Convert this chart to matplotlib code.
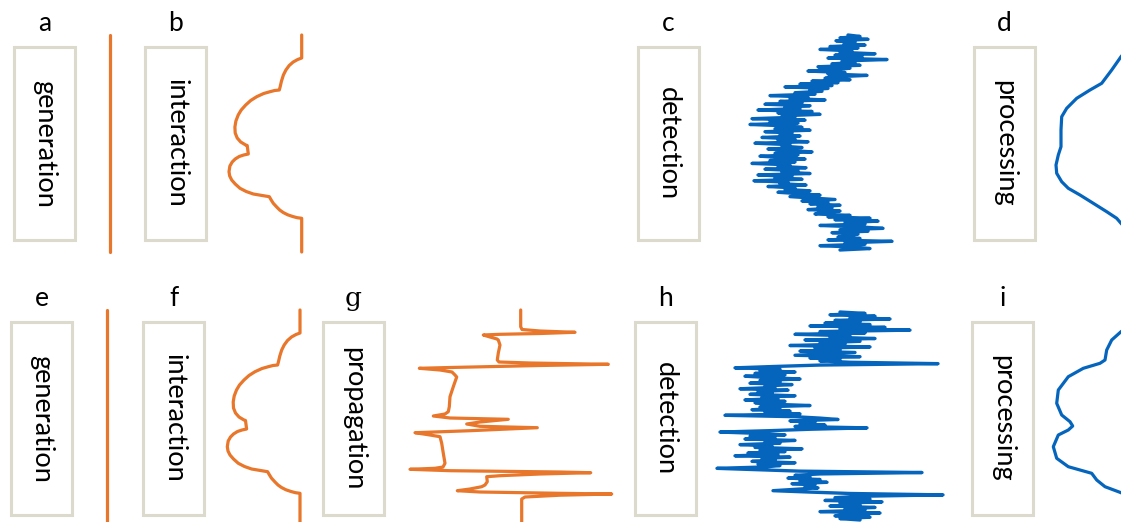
import numpy as np
import matplotlib
matplotlib.use("Agg")
import matplotlib.pyplot as plt
from matplotlib.patches import Rectangle

plt.rcParams["font.family"] = ["Lato", "DejaVu Sans"]

ORANGE = "#E8762B"
BLUE = "#0565BD"
BOX_EDGE = "#DCDACD"

# stage names and panel letters
top_labels = ["a", "b", "c", "d"]
top_stages = ["generation", "interaction", "detection", "processing"]
bottom_labels = ["e", "f", "g", "h", "i"]
bottom_stages = ["generation", "interaction", "propagation", "detection", "processing"]

# interaction profile: depth (px from top) and deflection from the baseline
interaction_depth = [0, 23, 24.5, 27, 30.5, 35, 40, 46, 52, 55, 55.5, 56.7, 58.5, 61.7, 65.5,
                     70, 75, 80, 86, 92, 98, 103, 107, 110, 110.5, 119, 120, 121.5, 124, 127,
                     131, 136.7, 141, 145, 149, 153.3, 156.5, 159, 161.7, 165, 168.3, 172,
                     175, 177.5, 179.8, 181.5, 182.7, 183.3, 217]
interaction_amp = [0, 0, -4, -8.5, -12.5, -15.8, -18.3, -20.2, -21.6, -22.4, -27, -31.7, -38,
                   -45, -51, -56, -60.5, -63.5, -65.8, -66.8, -66.5, -64.5, -61, -56, -54.5,
                   -53.4, -58, -62.5, -66.5, -69.5, -71.8, -72.7, -72, -70, -66.5, -61.7,
                   -55.5, -48.4, -32.4, -30.5, -28.4, -25, -22, -18.5, -14, -9, -4.5, 0, 0]

# propagated field (orange, panel g)
propagation_x = [120.7, 120.7, 122, 140, 175, 140, 100, 83.3, 90, 97, 98.3, 100, 98.3, 97.3,
                 99, 130, 208.3, 140, 50, 19.3, 40, 52, 55, 56.7, 53.3, 50, 49.3, 48.3, 45,
                 33.3, 50, 108.3, 80, 66.7, 80, 137.3, 70, 15, 30, 40, 41.7, 43.3, 45, 43,
                 35, 10, 50, 160, 190.7, 140, 100, 86.7, 87.3, 85, 81.7, 70, 57.3, 80, 160,
                 211.7, 160, 125, 121.7, 121.7]
propagation_depth = [0, 16.7, 19.5, 21, 22.3, 23.5, 24.3, 25, 27, 29, 30, 35, 43, 50, 52, 53,
                     54.3, 55.5, 57.5, 58.3, 60, 62, 65, 67, 76.7, 86.7, 96.7, 101.7, 104,
                     106, 108, 109.3, 112, 114, 116.3, 117.7, 120.7, 122.7, 125, 126.7,
                     133.3, 143.3, 153.3, 157, 158.3, 159.3, 160.7, 162, 162.7, 164, 165.7,
                     166.7, 171.7, 175, 176.7, 179, 180.7, 182, 183.3, 184, 185.2, 187,
                     189, 212]

# detected signal, top row (blue, noisy), evenly sampled in depth
detection_top = [108, 120, 100, 128, 96, 115, 104, 125, 90, 118,
                 80, 112, 100, 135, 95, 122, 88, 147, 102, 115,
                 92, 120, 78, 110, 96, 68, 105, 88, 127, 95,
                 85, 110, 72, 98, 60, 92, 45, 88, 70, 82,
                 55, 75, 30, 68, 50, 85, 40, 62, 25, 70,
                 45, 60, 18, 72, 38, 80, 42, 55, 12, 65,
                 30, 58, 10, 48, 62, 35, 70, 25, 52, 40,
                 60, 22, 55, 38, 68, 15, 50, 42, 62, 28,
                 48, 72, 35, 58, 20, 45, 65, 30, 55, 12,
                 50, 38, 66, 25, 58, 42, 70, 18, 52, 35,
                 62, 14, 48, 40, 66, 28, 55, 45, 70, 38,
                 60, 80, 50, 72, 95, 62, 88, 70, 100, 78,
                 92, 68, 100, 82, 75, 110, 88, 130, 95, 138,
                 105, 125, 80, 120, 143, 100, 128, 92, 118, 110,
                 98, 120, 88, 152, 105, 125, 80, 115, 130, 100]

# detected signal, bottom row (blue, noisy with reflections)
detection_bottom = [140, 165, 130, 175, 150, 190, 135, 160, 125, 170,
                    110, 185, 140, 210, 120, 165, 95, 150, 130, 175,
                    105, 160, 120, 145, 90, 170, 115, 140, 100, 155,
                    125, 95, 160, 110, 140, 120, 150, 238, 120, 75,
                    35, 80, 60, 95, 55, 85, 45, 70, 100, 60,
                    80, 50, 92, 65, 75, 40, 88, 58, 72, 50,
                    95, 62, 78, 45, 85, 55, 70, 110, 60, 80,
                    52, 90, 65, 100, 25, 95, 120, 138, 90, 115,
                    100, 125, 95, 167, 110, 70, 20, 60, 85, 50,
                    75, 45, 95, 65, 80, 40, 72, 55, 102, 60,
                    85, 48, 78, 35, 90, 62, 75, 52, 95, 58,
                    80, 65, 17, 60, 100, 222, 120, 95, 110, 88,
                    120, 100, 127, 92, 115, 105, 118, 95, 73, 110,
                    150, 243, 160, 135, 170, 125, 182, 140, 160, 130,
                    175, 145, 165, 120, 180, 150, 135, 170, 140, 160]

# processed (smoothed) profiles
processing_top_x = [85, 71, 61.7, 51.7, 40, 26.7, 16.7, 11.7, 11, 11, 8.3, 6, 6.7, 11.7, 18.3,
                    30, 43.3, 56.7, 66.7, 71, 85]
processing_top_depth = [5, 21.7, 35, 48.3, 55, 63.3, 73.3, 81.7, 95, 111.7, 120, 130, 138.3,
                        146.7, 153.3, 160, 168.3, 176.7, 183.3, 188.3, 203]
processing_bottom_x = [85, 71, 61.7, 56.7, 55, 50, 33.3, 18.3, 8.3, 6.7, 11.7, 20, 22.7, 18.3,
                       8.3, 3.3, 6.7, 18.3, 41.7, 46.7, 55, 71, 85]
processing_bottom_depth = [12, 21.7, 30, 40, 50, 53.3, 58.3, 66.7, 80, 93.3, 105, 111.7, 116,
                           120, 125, 136.7, 148.3, 156.7, 163.3, 170, 176.7, 182.7, 190]

fig = plt.figure(figsize=(11.21, 5.22), dpi=100)
ax = fig.add_axes([0, 0, 1, 1])
ax.set_xlim(0, 1121)
ax.set_ylim(522, 0)
ax.axis("off")


def stage_box(x0, y0, label, stage, w=61, h=193):
    ax.add_patch(Rectangle((x0, y0), w, h, facecolor="white", edgecolor=BOX_EDGE, lw=2.2))
    ax.text(x0 + w / 2, y0 + h / 2, stage, rotation=-90, ha="center", va="center",
            fontsize=19.5, color="black")
    lab_font = ["DejaVu Serif"] if label == "g" else ["Lato", "DejaVu Sans"]
    ax.text(x0 + w / 2, y0 - 16, label, ha="center", va="baseline", fontsize=19,
            color="black", family=lab_font)


line_kw = dict(lw=2.3, solid_joinstyle="round", solid_capstyle="round")
noise_kw = dict(lw=2.4, solid_joinstyle="round", solid_capstyle="round")

# top row
for x0, lab, stage in zip([14, 145, 638, 974], top_labels, top_stages):
    stage_box(x0, 47, lab, stage)

ax.plot([110, 110], [35, 252], color=ORANGE, **line_kw)
ax.plot(301.7 + np.array(interaction_amp), 35 + np.array(interaction_depth), color=ORANGE, **line_kw)
y_top = np.linspace(35, 250, len(detection_top))
ax.plot(740 + np.array(detection_top), y_top, color=BLUE, **noise_kw)
ax.plot(1050 + np.array(processing_top_x), 35 + np.array(processing_top_depth), color=BLUE, **line_kw)

# bottom row
for x0, lab, stage in zip([11, 143, 323, 635, 972], bottom_labels, bottom_stages):
    stage_box(x0, 322, lab, stage)

ax.plot([107, 107], [310, 522], color=ORANGE, **line_kw)
ax.plot(300 + np.array(interaction_amp), 310 + np.array(interaction_depth), color=ORANGE, **line_kw)
ax.plot(400 + np.array(propagation_x), 310 + np.array(propagation_depth), color=ORANGE, **line_kw)
y_bot = np.linspace(312, 520, len(detection_bottom))
ax.plot(700 + np.array(detection_bottom), y_bot, color=BLUE, **noise_kw)
ax.plot(1050 + np.array(processing_bottom_x), 310 + np.array(processing_bottom_depth), color=BLUE, **line_kw)

fig.savefig("out.png", dpi=100)
